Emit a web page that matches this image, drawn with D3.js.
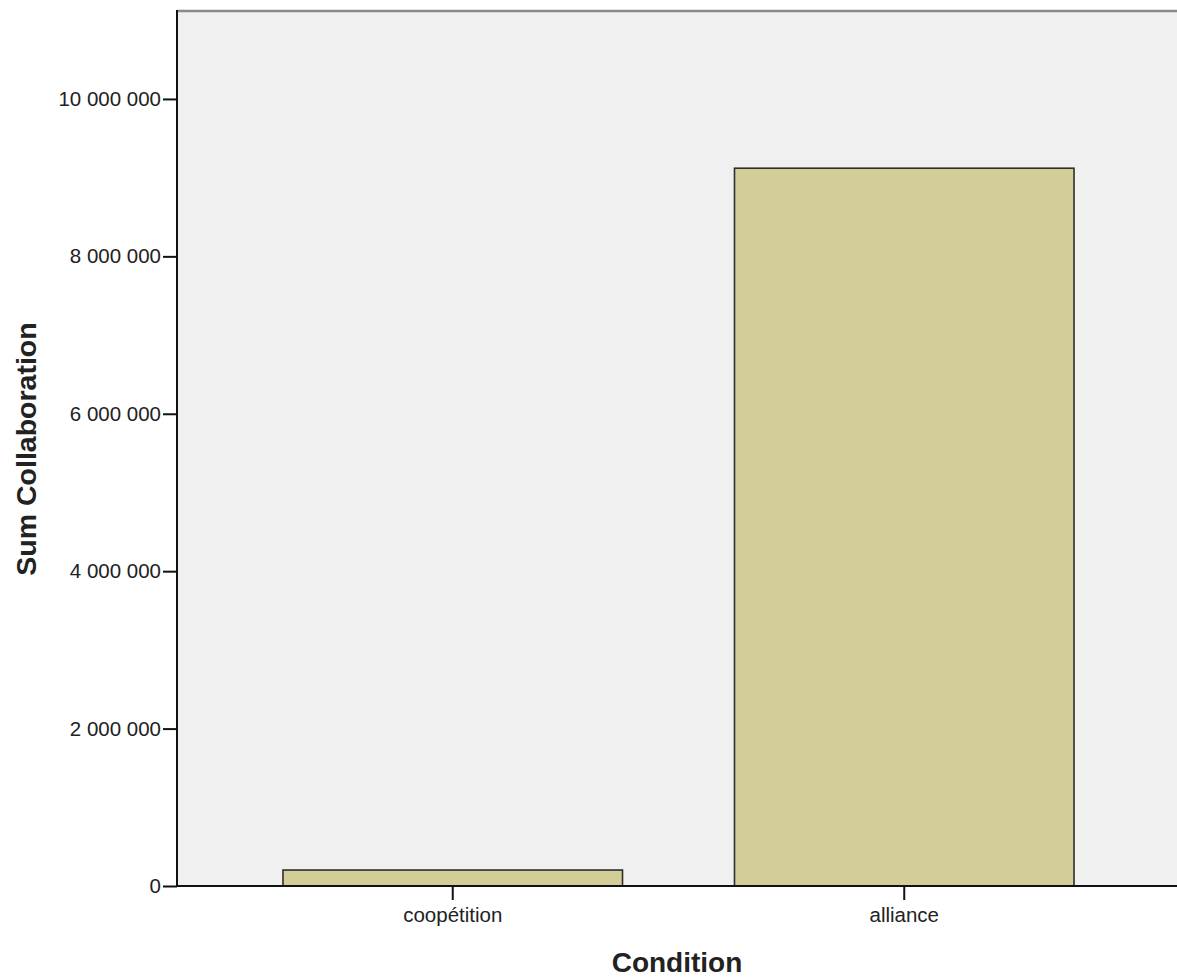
<!DOCTYPE html>
<html>
<head>
<meta charset="utf-8">
<script src="https://cdn.jsdelivr.net/npm/d3@7"></script>
<style>
  html, body { margin: 0; padding: 0; background: #ffffff; }
  svg { display: block; }
  text { font-family: "Liberation Sans", Arial, sans-serif; fill: #222; }
</style>
</head>
<body>
<svg id="chart" width="1177" height="980"></svg>
<script>
const categories = ["coopétition", "alliance"];
const values = [203000, 9120000];
const yTicks = [0, 2000000, 4000000, 6000000, 8000000, 10000000];
const xTitle = "Condition";
const yTitle = "Sum Collaboration";

const svg = d3.select("#chart");
const plotLeft = 177, plotRight = 1177, plotTop = 10, plotBottom = 886;

const x = d3.scaleBand().domain(categories).range([227, 1130]).paddingInner(0.248).paddingOuter(0.124);
const y = d3.scaleLinear().domain([0, 11130000]).range([plotBottom, plotTop]);

const loc = d3.formatLocale({decimal: ",", thousands: " ", grouping: [3], currency: ["", ""]});
const fmt = loc.format(",d");

// plot background
svg.append("rect").attr("x", plotLeft).attr("y", plotTop).attr("width", plotRight - plotLeft).attr("height", plotBottom - plotTop)
  .attr("fill", "#f0f0f0");
// top border
svg.append("line").attr("x1", plotLeft).attr("x2", plotRight).attr("y1", plotTop + 1).attr("y2", plotTop + 1)
  .attr("stroke", "#8a8a8a").attr("stroke-width", 2.5);

// bars
svg.selectAll("rect.bar").data(categories).enter().append("rect")
  .attr("class", "bar")
  .attr("x", d => x(d))
  .attr("width", x.bandwidth())
  .attr("y", (d, i) => y(values[i]))
  .attr("height", (d, i) => plotBottom - y(values[i]))
  .attr("fill", "#d3cd98")
  .attr("stroke", "#2e2e2e")
  .attr("stroke-width", 1.6);

// y axis
const yAxis = d3.axisLeft(y).tickValues(yTicks).tickFormat(fmt).tickSize(14).tickPadding(2);
const gy = svg.append("g").attr("transform", `translate(${plotLeft},0)`).call(yAxis);
gy.select(".domain").attr("stroke", "#111").attr("stroke-width", 2).attr("d", `M0,${plotTop}V${plotBottom}`);
gy.selectAll(".tick line").attr("stroke", "#111").attr("stroke-width", 2);
gy.selectAll(".tick text").style("font-family", "'Liberation Sans', Arial, sans-serif")
  .style("font-size", "20.5px").attr("fill", "#222");

// x axis
const xAxis = d3.axisBottom(x).tickSize(14).tickPadding(7);
const gx = svg.append("g").attr("transform", `translate(0,${plotBottom})`).call(xAxis);
gx.select(".domain").attr("stroke", "#111").attr("stroke-width", 2).attr("d", `M${plotLeft},0H${plotRight}`);
gx.selectAll(".tick line").attr("stroke", "#111").attr("stroke-width", 2);
gx.selectAll(".tick text").style("font-family", "'Liberation Sans', Arial, sans-serif")
  .style("font-size", "20.5px").attr("fill", "#222");

// titles
svg.append("text").attr("x", (plotLeft + plotRight) / 2).attr("y", 972)
  .attr("text-anchor", "middle").style("font-size", "28px").style("font-weight", "bold")
  .attr("fill", "#111").text(xTitle);
svg.append("text").attr("transform", `translate(36,449) rotate(-90)`)
  .attr("text-anchor", "middle").style("font-size", "28.5px").style("font-weight", "bold")
  .attr("fill", "#111").text(yTitle);
</script>
</body>
</html>
